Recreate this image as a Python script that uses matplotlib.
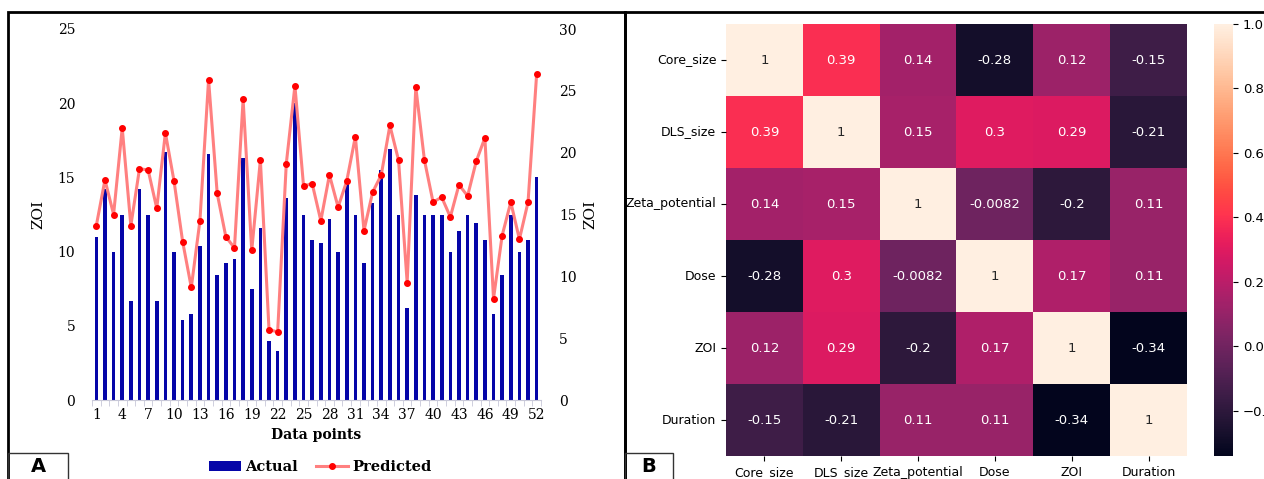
import matplotlib
matplotlib.use('Agg')
import matplotlib.pyplot as plt
from matplotlib.patches import Rectangle
from matplotlib.colors import ListedColormap, rgb_to_hsv, hsv_to_rgb
import numpy as np
import pandas as pd
import seaborn as sns

# Panel A data
points = list(range(1, 53))
actual = [11.0, 14.2, 10.0, 12.5, 6.7, 14.2, 12.5, 6.7, 16.7, 10.0,
          5.4, 5.8, 10.4, 16.6, 8.4, 9.2, 9.5, 16.3, 7.5, 11.6,
          4.0, 3.3, 13.6, 20.0, 12.5, 10.8, 10.6, 12.2, 10.0, 14.6,
          12.5, 9.2, 13.3, 15.5, 16.9, 12.5, 6.2, 13.8, 12.5, 12.5,
          12.5, 10.0, 11.4, 12.5, 11.9, 10.8, 5.8, 8.4, 12.5, 10.0,
          10.8, 15.0]
predicted = [14.1, 17.8, 15.0, 22.0, 14.1, 18.7, 18.6, 15.5, 21.6, 17.7,
             12.8, 9.1, 14.5, 25.9, 16.7, 13.2, 12.3, 24.3, 12.1, 19.4,
             5.7, 5.5, 19.1, 25.4, 17.3, 17.5, 14.5, 18.2, 15.6, 17.7,
             21.3, 13.7, 16.8, 18.2, 22.2, 19.4, 9.5, 25.3, 19.4, 16.0,
             16.4, 14.8, 17.4, 16.5, 19.3, 21.2, 8.2, 13.3, 16.0, 13.0,
             16.0, 26.4]

# Panel B data
features = ['Core_size', 'DLS_size', 'Zeta_potential', 'Dose', 'ZOI', 'Duration']
corr = [
    [1, 0.39, 0.14, -0.28, 0.12, -0.15],
    [0.39, 1, 0.15, 0.3, 0.29, -0.21],
    [0.14, 0.15, 1, -0.0082, -0.2, 0.11],
    [-0.28, 0.3, -0.0082, 1, 0.17, 0.11],
    [0.12, 0.29, -0.2, 0.17, 1, -0.34],
    [-0.15, -0.21, 0.11, 0.11, -0.34, 1],
]

W, H = 1264, 479
fig = plt.figure(figsize=(W / 100, H / 100), dpi=100)


def fx(px):
    return px / W


def fy(py):
    return 1 - py / H


serif = 'DejaVu Serif'

# ---- Panel A ----
ax = fig.add_axes([fx(92), fy(400), fx(541) - fx(92), fy(29) - fy(400)])
ax.bar(points, actual, width=0.42, color='#0505A8', label='Actual', zorder=2)
ax.set_xlim(0.5, 52.5)
ax.set_ylim(0, 25)
ax.set_yticks(range(0, 26, 5))
ax.set_xticks(points[::3])
ax.set_xticks(np.arange(0.5, 53, 1), minor=True)
ax.tick_params(axis='x', which='major', length=0, pad=6)
ax.tick_params(axis='x', which='minor', length=4, color='#c8c8d8')
ax.tick_params(axis='y', length=0, pad=12)
for s in ['top', 'right', 'left']:
    ax.spines[s].set_visible(False)
ax.spines['bottom'].set_color('#c8c8d8')
for lab in ax.get_xticklabels() + ax.get_yticklabels():
    lab.set_fontfamily(serif)
    lab.set_fontsize(10)
ax.set_ylabel('ZOI', fontfamily=serif, fontsize=11, labelpad=9)
ax.set_xlabel('Data points', fontfamily=serif, fontsize=10, fontweight='bold', labelpad=4)

ax2 = ax.twinx()
ax2.plot(points, predicted, color='#FF8080', lw=2.2, marker='o', markersize=4,
         markerfacecolor='red', markeredgecolor='red', label='Predicted', zorder=3)
ax2.set_ylim(0, 30)
ax2.set_yticks(range(0, 31, 5))
ax2.tick_params(axis='y', length=0, pad=13)
for s in ['top', 'right', 'left', 'bottom']:
    ax2.spines[s].set_visible(False)
for lab in ax2.get_yticklabels():
    lab.set_fontfamily(serif)
    lab.set_fontsize(10)
ax2.set_ylabel('ZOI', fontfamily=serif, fontsize=11, labelpad=5)

h1, l1 = ax.get_legend_handles_labels()
h2, l2 = ax2.get_legend_handles_labels()
fig.legend(h1 + h2, l1 + l2, loc='center', bbox_to_anchor=(fx(320), fy(467)),
           ncol=2, frameon=False, handlelength=2.2, columnspacing=1.2, handletextpad=0.3,
           prop={'family': serif, 'weight': 'bold', 'size': 10.5})

# ---- Panel B ----
# rocket, a bit brighter like the reference
base = sns.color_palette('rocket', as_cmap=True)(np.linspace(0, 1, 256))[:, :3]
hsv = rgb_to_hsv(base)
hsv[:, 2] = np.clip(hsv[:, 2] * 1.15, 0, 1)
bright = ListedColormap(hsv_to_rgb(hsv))

hax = fig.add_axes([fx(726), fy(456), fx(1187) - fx(726), fy(24) - fy(456)])
cax = fig.add_axes([fx(1214), fy(456), fx(1233) - fx(1214), fy(24) - fy(456)])
df = pd.DataFrame(corr, index=features, columns=features)
sns.heatmap(df, annot=True, ax=hax, cbar_ax=cax, cmap=bright, annot_kws={'size': 9.5})
hax.tick_params(axis='both', labelsize=9)
plt.setp(hax.get_yticklabels(), rotation=0)
plt.setp(hax.get_xticklabels(), rotation=0)
cax.tick_params(labelsize=9.5)

# ---- frames ----
fig.add_artist(Rectangle((fx(8), fy(490)), fx(625) - fx(8), fy(12) - fy(490),
                         transform=fig.transFigure, fill=False, lw=2, ec='black'))
fig.add_artist(Rectangle((fx(625), fy(490)), fx(1270) - fx(625), fy(12) - fy(490),
                         transform=fig.transFigure, fill=False, lw=2, ec='black'))
fig.add_artist(Rectangle((fx(8), fy(490)), fx(68) - fx(8), fy(453) - fy(490),
                         transform=fig.transFigure, fill=False, lw=1, ec='#333333'))
fig.add_artist(Rectangle((fx(625), fy(490)), fx(673) - fx(625), fy(453) - fy(490),
                         transform=fig.transFigure, fill=False, lw=1, ec='#333333'))
fig.text(fx(38), fy(467), 'A', ha='center', va='center', fontsize=14, fontweight='bold',
         fontfamily='DejaVu Sans')
fig.text(fx(649), fy(467), 'B', ha='center', va='center', fontsize=14, fontweight='bold',
         fontfamily='DejaVu Sans')

fig.savefig('out.png', dpi=100)
